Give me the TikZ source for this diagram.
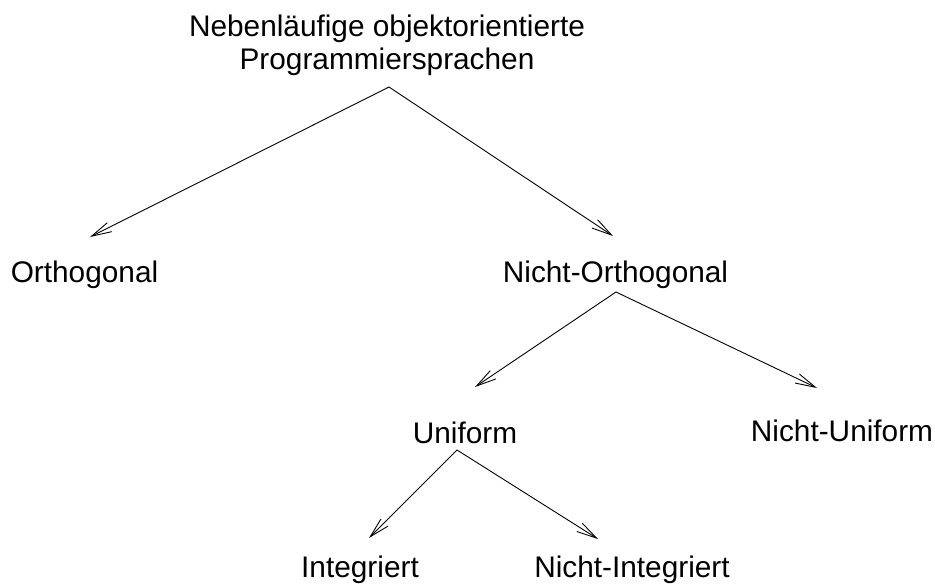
\documentclass[tikz,border=0pt]{standalone}
\usepackage{fontspec}
\setmainfont{Liberation Sans}
\usepackage{tikz}
\usetikzlibrary{arrows.meta, positioning}

\begin{document}
\begin{tikzpicture}[
      x=1pt, y=-1pt,
      label/.style={inner sep=0pt, font=\fontsize{29.8}{33}\selectfont, align=center},
      arr/.style={-{Straight Barb[length=20pt, width=10pt]}, line width=0.9pt}
    ]
      \useasboundingbox (0,0) rectangle (935,585);

      \node[label, anchor=south] (top) at (387,76) {Nebenläufige objektorientierte\\Programmiersprachen};

      \node[label, anchor=base] (orth) at (84.5,283) {Orthogonal};
      \node[label, anchor=base] (northo) at (615.5,283) {Nicht-Orthogonal};

      \node[label, anchor=base] (uni) at (465,443) {Uniform};
      \node[label, anchor=base] (nuni) at (842,442) {Nicht-Uniform};

      \node[label, anchor=base] (integ) at (360,577) {Integriert};
      \node[label, anchor=base] (ninteg) at (632,577) {Nicht-Integriert};

      % top level
      \draw[arr] ([shift={(2,11)}]top.south) -- ([shift={(5.5,-46)}]orth.base);
      \draw[arr] ([shift={(2,11)}]top.south) -- ([shift={(-2.5,-47)}]northo.base);
      % below Nicht-Orthogonal
      \draw[arr] ([shift={(0.5,9)}]northo.base) -- ([shift={(10,-56)}]uni.base);
      \draw[arr] ([shift={(0.5,9)}]northo.base) -- ([shift={(-25,-54)}]nuni.base);
      % below Uniform
      \draw[arr] ([shift={(-8,7)}]uni.base) -- ([shift={(9,-39)}]integ.base);
      \draw[arr] ([shift={(-8,7)}]uni.base) -- ([shift={(-34,-38)}]ninteg.base);
    \end{tikzpicture}
\end{document}
